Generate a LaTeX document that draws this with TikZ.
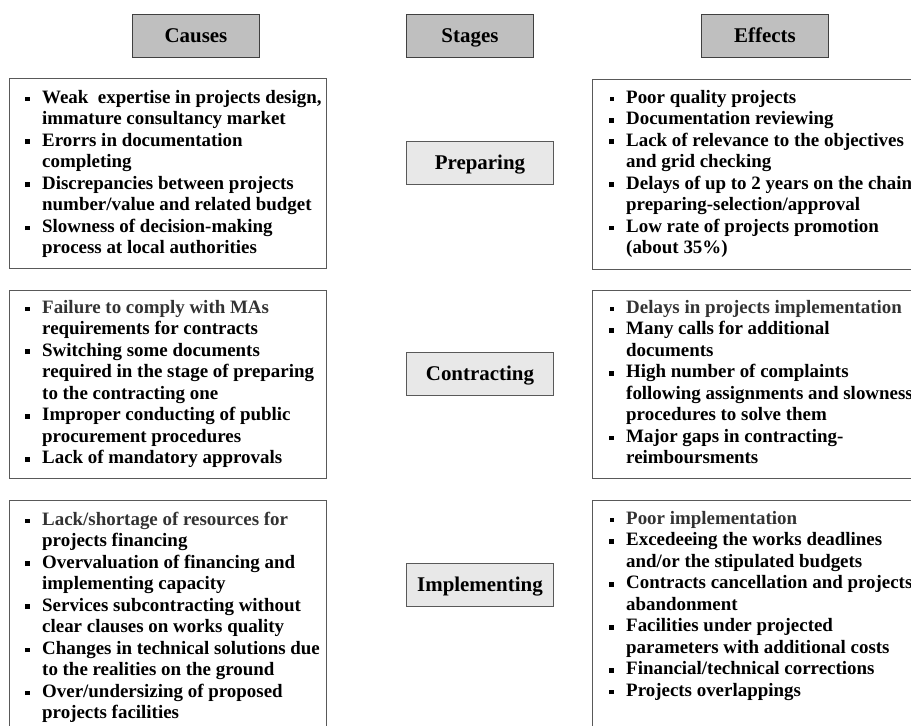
\documentclass[tikz,border=0pt]{standalone}
\usepackage{fontspec}
\setmainfont{Liberation Serif}
\newcommand{\bul}{\makebox[17bp][l]{\rule[2.2bp]{4.6bp}{4.6bp}}}
\newcommand{\sbul}{\makebox[17bp][l]{\hspace{0.3bp}\rule[2.4bp]{4.1bp}{4.1bp}}}
\newcommand{\ind}{\hspace*{17bp}}
\newcommand{\fst}{\rule{0pt}{14bp}}
\begin{document}
\begin{tikzpicture}[x=1bp,y=-1bp,
  bigbox/.style={draw=black!65, line width=0.9bp, anchor=north west, inner sep=0pt, outer sep=0pt},
  headbox/.style={draw=black!75, fill=black!25, line width=0.9bp, anchor=north west, inner sep=0pt,
    minimum width=127bp, minimum height=43bp, text height=14bp, text depth=0bp,
    font=\fontsize{21}{24}\selectfont\bfseries},
  stagebox/.style={draw=black!65, fill=black!9, line width=0.9bp, anchor=north west, inner sep=0pt,
    minimum width=147bp, minimum height=43bp, text height=14bp, text depth=0bp,
    font=\fontsize{21}{24}\selectfont\bfseries},
  listtext/.style={anchor=north west, inner sep=0pt, align=left,
    font=\fontsize{19}{21.6}\selectfont\bfseries}
]
\useasboundingbox (0,0) rectangle (911,726);
\clip (0,0) rectangle (911,726);

% headers
\node[headbox] (hcauses) at (132,14) {Causes};
\node[headbox] (hstages) at (406,14) {Stages};
\node[headbox] (heffects) at (701,14) {Effects};

% stages
\node[stagebox] (sprep) at (406,141) {Preparing};
\node[stagebox] (scontr) at (406,352) {Contracting};
\node[stagebox] (simpl) at (406,563) {Implementing};

% cause boxes
\node[bigbox, minimum width=317bp, minimum height=190bp] (c1) at (9,78) {};
\node[bigbox, minimum width=317bp, minimum height=188bp] (c2) at (9,290) {};
\node[bigbox, minimum width=317bp, minimum height=260bp] (c3) at (9,500) {};

% effect boxes
\node[bigbox, minimum width=340bp, minimum height=190bp] (e1) at (592,79) {};
\node[bigbox, minimum width=340bp, minimum height=188bp] (e2) at (592,290) {};
\node[bigbox, minimum width=340bp, minimum height=260bp] (e3) at (592,500) {};

% cause texts
\node[listtext] (c1t) at (25,89) {\fst\sbul Weak\ \ expertise in projects design,\\
\ind immature consultancy market\\
\bul Erorrs in documentation\\
\ind completing\\
\bul Discrepancies between projects\\
\ind number/value and related budget\\
\bul Slowness of decision-making\\
\ind process at local authorities};

\node[listtext] (c2t) at (25,299) {\fst\sbul {\color{black!80}Failure to comply with MAs}\\
\ind requirements for contracts\\
\bul Switching some documents\\
\ind required in the stage of preparing\\
\ind to the contracting one\\
\bul Improper conducting of public\\
\ind procurement procedures\\
\bul Lack of mandatory approvals};

\node[listtext] (c3t) at (25,511) {\fst\sbul {\color{black!80}Lack/shortage of resources for}\\
\ind projects financing\\
\bul Overvaluation of financing and\\
\ind implementing capacity\\
\bul Services subcontracting without\\
\ind clear clauses on works quality\\
\bul Changes in technical solutions due\\
\ind to the realities on the ground\\
\bul Over/undersizing of proposed\\
\ind projects facilities};

% effect texts
\node[listtext] (e1t) at (609,89) {\fst\sbul Poor quality projects\\
\bul Documentation reviewing\\
\bul Lack of relevance to the objectives\\
\ind and grid checking\\
\bul Delays of up to 2 years on the chain\\
\ind preparing-selection/approval\\
\bul Low rate of projects promotion\\
\ind (about 35\%)};

\node[listtext] (e2t) at (609,299) {\fst\sbul {\color{black!80}Delays in projects implementation}\\
\bul Many calls for additional\\
\ind documents\\
\bul High number of complaints\\
\ind following assignments and slowness\\
\ind procedures to solve them\\
\bul Major gaps in contracting-\\
\ind reimboursments};

\node[listtext] (e3t) at (609,510) {\fst\sbul {\color{black!80}Poor implementation}\\
\bul Excedeeing the works deadlines\\
\ind and/or the stipulated budgets\\
\bul Contracts cancellation and projects\\
\ind abandonment\\
\bul Facilities under projected\\
\ind parameters with additional costs\\
\bul Financial/technical corrections\\
\bul Projects overlappings};
\end{tikzpicture}
\end{document}
